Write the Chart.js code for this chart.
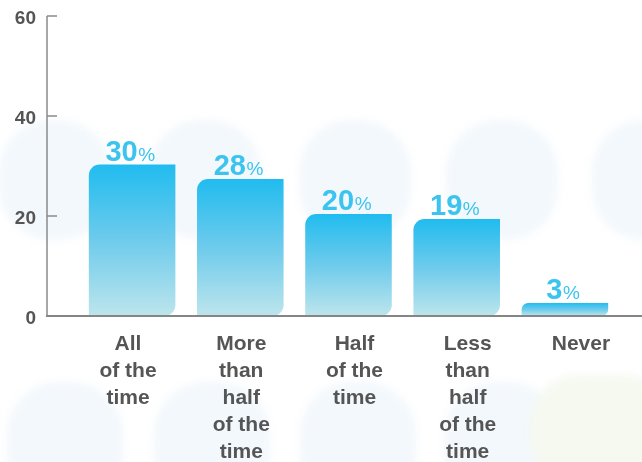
<!DOCTYPE html>
<html><head><meta charset="utf-8">
<script src="https://cdn.jsdelivr.net/npm/chart.js@4/dist/chart.umd.min.js"></script>
<style>html,body{margin:0;padding:0;background:#fff;overflow:hidden}#wrap{width:642px;height:462px}</style>
</head><body><div id="wrap"><canvas id="c" width="642" height="462"></canvas></div>
<script>
const categories = [
  ['All', 'of the', 'time'],
  ['More', 'than', 'half', 'of the', 'time'],
  ['Half', 'of the', 'time'],
  ['Less', 'than', 'half', 'of the', 'time'],
  ['Never']
];
const values = [30.3, 27.4, 20.4, 19.4, 2.6];
const valueLabels = ['30', '28', '20', '19', '3'];
const yTicks = [0, 20, 40, 60];

const FONT = "'Liberation Sans', Arial, Helvetica, sans-serif";
const AXIS_X = 47;

const bgPlugin = {
  id: 'bg',
  beforeDraw(chart) {
    const c = chart.ctx;
    c.save();
    c.fillStyle = '#ffffff';
    c.fillRect(0, 0, chart.width, chart.height);
    c.filter = 'blur(4px)';
    c.fillStyle = '#f3f8fc';
    const row1 = [55, 205, 355, 502, 648];
    const row2 = [65, 212, 358, 502, 648];
    row1.forEach(cx => { c.beginPath(); c.roundRect(cx - 56, 120, 112, 120, 52); c.fill(); });
    row2.forEach(cx => { c.beginPath(); c.roundRect(cx - 58, 382, 116, 125, 52); c.fill(); });
    c.fillStyle = '#f5f9f0';
    c.beginPath(); c.roundRect(530, 375, 140, 110, 50); c.fill();
    c.restore();
  }
};

const axesPlugin = {
  id: 'axes',
  afterDatasetsDraw(chart) {
    const c = chart.ctx, y = chart.scales.y;
    const y0 = y.getPixelForValue(0), yTop = y.getPixelForValue(yTicks[yTicks.length - 1]);
    c.save();
    c.strokeStyle = '#8a8a8a';
    c.lineWidth = 1.5;
    c.beginPath(); c.moveTo(AXIS_X, yTop); c.lineTo(AXIS_X, y0); c.stroke();
    yTicks.slice(1).forEach(v => {
      const p = y.getPixelForValue(v);
      c.beginPath(); c.moveTo(AXIS_X, p); c.lineTo(AXIS_X + 10, p); c.stroke();
    });
    c.lineWidth = 2;
    c.strokeStyle = '#858585';
    c.beginPath(); c.moveTo(AXIS_X - 1, y0); c.lineTo(chart.width, y0); c.stroke();
    // value labels
    const meta = chart.getDatasetMeta(0);
    c.fillStyle = '#3cc4ef';
    c.textBaseline = 'alphabetic';
    meta.data.forEach((bar, i) => {
      const num = valueLabels[i];
      c.font = 'bold 29px ' + FONT;
      const w1 = c.measureText(num).width;
      c.font = '19px ' + FONT;
      const w2 = c.measureText('%').width;
      const gap = 0.5;
      const total = w1 + gap + w2;
      const x0 = bar.x - 1.8 - total / 2;
      const by = bar.y - 4;
      c.font = 'bold 29px ' + FONT;
      c.textAlign = 'left';
      c.fillText(num, x0, by);
      c.font = '19px ' + FONT;
      c.fillText('%', x0 + w1 + gap, by);
    });
    c.restore();
  }
};

new Chart(document.getElementById('c'), {
  type: 'bar',
  data: {
    labels: categories.map(c => c.join(' ')),
    datasets: [{
      data: values,
      xAxisID: 'x',
      yAxisID: 'y',
      categoryPercentage: 1,
      barPercentage: 0.8,
      borderSkipped: false,
      borderWidth: 0,
      borderRadius: { topLeft: 11, topRight: 0, bottomLeft: 0, bottomRight: 11 },
      backgroundColor: (ctx) => {
        const chart = ctx.chart;
        if (ctx.type !== 'data' || !chart.chartArea || !chart.scales.y) return '#2bbfef';
        const y = chart.scales.y;
        const top = y.getPixelForValue(values[ctx.dataIndex]);
        const bot = y.getPixelForValue(0);
        const g = chart.ctx.createLinearGradient(0, top, 0, bot);
        g.addColorStop(0, '#20bcef');
        g.addColorStop(0.5, '#6ecbec');
        g.addColorStop(1, '#bde5ec');
        return g;
      }
    }]
  },
  options: {
    responsive: false,
    animation: false,
    devicePixelRatio: 1,
    layout: { padding: { top: 16, right: 23, left: 0, bottom: 0 } },
    plugins: { legend: { display: false }, tooltip: { enabled: false } },
    scales: {
      x: { type: 'category', display: false, offset: true },
      xl: {
        type: 'linear', position: 'bottom', min: -0.4415, max: 4.336, bounds: 'data', offset: false,
        grid: { display: false, drawTicks: false, offset: false }, border: { display: false },
        afterBuildTicks: s => { s.ticks = categories.map((_, i) => ({ value: i })); },
        afterFit: s => { s.height = 146; s.paddingLeft = 0; s.paddingRight = 0; },
        ticks: {
          autoSkip: false, maxRotation: 0, padding: 15,
          color: '#555555',
          font: { family: FONT, size: 21, weight: 'bold', lineHeight: 27 / 21 },
          callback: v => categories[v]
        }
      },
      y: {
        min: 0, max: 60,
        grid: { display: false, drawTicks: false }, border: { display: false },
        afterBuildTicks: s => { s.ticks = yTicks.map(v => ({ value: v })); },
        afterFit: s => { s.width = 78; s.paddingTop = 0; s.paddingBottom = 0; },
        ticks: {
          padding: 42, labelOffset: 3,
          color: '#555555',
          font: { family: FONT, size: 19, weight: 'bold' }
        }
      }
    }
  },
  plugins: [bgPlugin, axesPlugin]
});
</script></body></html>
